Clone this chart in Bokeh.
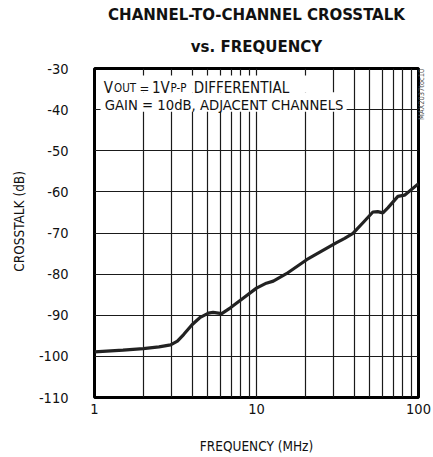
import math
from bokeh.plotting import figure
from bokeh.models import (Range1d, FixedTicker, Label, Title, BoxAnnotation,
                          LinearAxis)
from bokeh.embed import file_html
from bokeh.resources import INLINE

# ---------------- data ----------------
freq_mhz = [1, 1.5, 2, 2.5, 2.95, 3.25, 3.55, 4.0, 4.5, 5.05, 5.4, 6.1, 6.9,
            8.3, 10, 11.5, 12.7, 15.3, 20.4, 31, 35, 39.4, 45.4, 52.3, 56, 60.3,
            64.7, 74.6, 82, 100]
crosstalk_db = [-98.9, -98.5, -98.1, -97.7, -97.2, -96.3, -94.7, -92.3, -90.5,
                -89.5, -89.3, -89.6, -88.2, -85.8, -83.4, -82.2, -81.7, -79.9,
                -76.5, -72.4, -71.3, -70.1, -67.5, -64.9, -64.8, -65.1, -63.9,
                -61.1, -60.8, -58.0]

y_ticks = [-110, -100, -90, -80, -70, -60, -50, -40, -30]
y_tick_labels = ["-110", "-100", "-90", "-80", "-70", "-60", "-50", "-40", "-30"]
x_ticks = [1, 10, 100]
x_tick_labels = ["1", "10", "100"]
x_minor = [2, 3, 4, 5, 6, 7, 8, 9, 20, 30, 40, 50, 60, 70, 80, 90]
code_tag = "MAX2037toc10"

FONT = "DejaVu Sans Condensed"

p = figure(width=433, height=457, x_axis_type="log",
           x_range=Range1d(1, 100), y_range=Range1d(-110, -30),
           output_backend="svg", toolbar_location=None, title=None,
           min_border_left=94, min_border_right=13,
           min_border_top=68, min_border_bottom=60)

p.background_fill_color = "white"
p.border_fill_color = "white"
p.outline_line_color = "black"
p.outline_line_width = 3

# grid
p.xaxis.ticker = FixedTicker(ticks=x_ticks, minor_ticks=x_minor)
p.yaxis.ticker = FixedTicker(ticks=y_ticks)
for g in (p.xgrid, p.ygrid):
    g.grid_line_color = "#1a1a1a"
    g.grid_line_width = 1.2
p.xgrid.minor_grid_line_color = "#1a1a1a"
p.xgrid.minor_grid_line_width = 1.2

p.xaxis.major_label_overrides = {t: s for t, s in zip(x_ticks, x_tick_labels)}
p.yaxis.major_label_overrides = {t: s for t, s in zip(y_ticks, y_tick_labels)}

for ax in (p.xaxis, p.yaxis):
    ax.axis_line_color = None
    ax.major_tick_line_color = None
    ax.minor_tick_line_color = None
    ax.major_tick_out = 0
    ax.major_tick_in = 0
    ax.minor_tick_out = 0
    ax.minor_tick_in = 0
    ax.major_label_text_font = FONT
    ax.major_label_text_font_size = "14.5px"
    ax.major_label_text_color = "#111111"
    ax.axis_label_text_font = FONT
    ax.axis_label_text_font_size = "13.5px"
    ax.axis_label_text_font_style = "normal"
    ax.axis_label_text_color = "#111111"

p.xaxis.axis_label = "FREQUENCY (MHz)"
# non-breaking spaces on the lower end lift the rotated label slightly
p.yaxis.axis_label = "\u00a0" * 6 + "CROSSTALK (dB)"
p.yaxis.major_label_standoff = 26
p.yaxis.axis_label_standoff = 9
p.xaxis.major_label_standoff = 6
p.xaxis.axis_label_standoff = 21

# small drawing code at the right edge, as a tick label of a bare right axis
tag_axis = LinearAxis(ticker=FixedTicker(ticks=[-42.5]),
                      major_label_overrides={-42.5: code_tag},
                      major_label_orientation=math.pi / 2,
                      axis_line_color=None, major_tick_line_color=None,
                      minor_tick_line_color=None, major_tick_out=0,
                      major_tick_in=0, minor_tick_out=0, minor_tick_in=0,
                      major_label_standoff=3,
                      major_label_text_font=FONT,
                      major_label_text_font_size="7.5px",
                      major_label_text_color="#555555")
p.add_layout(tag_axis, "right")

# white boxes behind the annotation text
box1 = BoxAnnotation(left=1.03, right=24.6, top=-31.7, bottom=-35.8,
                     fill_color="white", fill_alpha=1, line_color=None)
box2 = BoxAnnotation(left=1.09, right=36.0, top=-35.8, bottom=-40.5,
                     fill_color="white", fill_alpha=1, line_color=None)
p.add_layout(box1)
p.add_layout(box2)

# curve
p.line(freq_mhz, crosstalk_db, line_color="#222222", line_width=3.2)

# annotation text
def lab(text, xoff, y, size):
    p.add_layout(Label(x=1, y=y, x_offset=xoff, text=text,
                       text_font=FONT, text_font_size=size,
                       text_color="#111111", text_baseline="alphabetic"))

y1 = -34.8
lab("V", 9.3, y1, "15px")
lab("OUT", 19.5, y1, "11.5px")
lab("=", 45, y1, "13px")
lab("1V", 57.5, y1, "15px")
lab("P-P", 76, y1, "11.5px")
lab("DIFFERENTIAL", 99.3, y1, "15px")
lab("GAIN = 10dB, ADJACENT CHANNELS", 10.3, -38.8, "14.7px")

# titles
p.add_layout(Title(text="vs. FREQUENCY", align="center", text_font=FONT,
                   text_font_size="16.7px", text_font_style="bold",
                   text_color="#111111", standoff=22,
                   vertical_align="top"), "above")
p.add_layout(Title(text="CHANNEL-TO-CHANNEL CROSSTALK", align="center",
                   text_font=FONT, text_font_size="16.7px",
                   text_font_style="bold", text_color="#111111",
                   standoff=1.5), "above")

open("out.html", "w").write(file_html(p, INLINE))
